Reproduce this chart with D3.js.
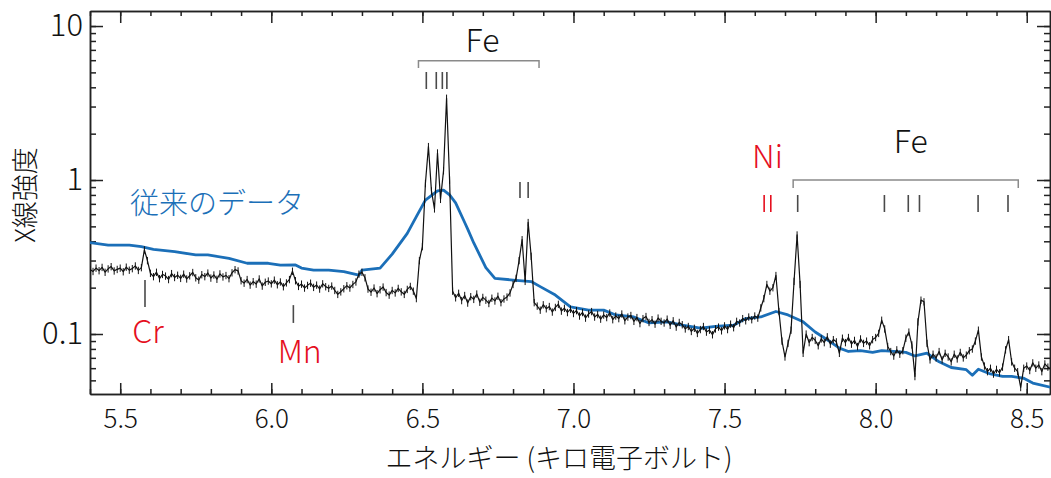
<!DOCTYPE html>
<html>
<head>
<meta charset="utf-8">
<script src="https://cdn.jsdelivr.net/npm/d3@7"></script>
<style>
	body { margin: 0; background: #fff; }
	svg { display: block; font-family: "Noto Sans CJK JP", "Noto Sans", sans-serif; font-weight: 300; }
	.axis path, .axis line { stroke: #222; stroke-width: 1.5; }
	.axis text { fill: #111; font-family: "Noto Sans CJK JP", "Noto Sans", sans-serif; font-weight: 300; }
</style>
</head>
<body>
<svg id="chart"></svg>
<script>
(function(){
	///////////////////////////////////////////////////////////////////
	//// Data /////////////////////////////////////////////////////////
	///////////////////////////////////////////////////////////////////
	// Black spectrum: bins of 0.01 keV starting at 5.40
	const specStart = 5.40;
	const specStep = 0.01;
	const specValues = [
		0.262, 0.255, 0.268, 0.258, 0.271, 0.252, 0.265, 0.274, 0.257, 0.263,
		0.268, 0.254, 0.272, 0.260, 0.266, 0.277, 0.259, 0.270, 0.352, 0.300,
		0.248, 0.236, 0.252, 0.229, 0.244, 0.238, 0.226, 0.247, 0.233, 0.241,
		0.230, 0.245, 0.228, 0.239, 0.251, 0.232, 0.224, 0.243, 0.236, 0.249,
		0.231, 0.242, 0.227, 0.246, 0.235, 0.240, 0.229, 0.250, 0.262, 0.257,
		0.222, 0.214, 0.226, 0.208, 0.219, 0.211, 0.228, 0.205, 0.217, 0.221,
		0.212, 0.224, 0.209, 0.218, 0.203, 0.215, 0.226, 0.256, 0.222, 0.204,
		0.211, 0.199, 0.207, 0.214, 0.201, 0.208, 0.196, 0.212, 0.203, 0.198,
		0.205, 0.192, 0.181, 0.188, 0.197, 0.206, 0.199, 0.210, 0.218, 0.245,
		0.252, 0.232, 0.196, 0.187, 0.199, 0.183, 0.194, 0.202, 0.186, 0.179,
		0.192, 0.185, 0.198, 0.188, 0.181, 0.195, 0.204, 0.190, 0.170, 0.300,
		0.370, 0.950, 1.650, 0.850, 0.650, 1.500, 0.750, 1.150, 3.400, 1.000,
		0.190, 0.172, 0.184, 0.165, 0.178, 0.159, 0.175, 0.168, 0.182, 0.161,
		0.173, 0.166, 0.158, 0.171, 0.164, 0.176, 0.160, 0.169, 0.174, 0.185,
		0.210, 0.230, 0.300, 0.410, 0.220, 0.530, 0.320, 0.160, 0.152, 0.143,
		0.155, 0.146, 0.151, 0.139, 0.149, 0.156, 0.141, 0.147, 0.138, 0.145,
		0.136, 0.142, 0.131, 0.138, 0.127, 0.135, 0.140, 0.129, 0.134, 0.125,
		0.133, 0.128, 0.137, 0.124, 0.131, 0.126, 0.135, 0.122, 0.129, 0.132,
		0.121, 0.128, 0.117, 0.126, 0.130, 0.119, 0.124, 0.116, 0.127, 0.121,
		0.118, 0.125, 0.114, 0.122, 0.111, 0.119, 0.115, 0.108, 0.112, 0.104,
		0.109, 0.101, 0.107, 0.112, 0.103, 0.106, 0.099, 0.108, 0.111, 0.105,
		0.113, 0.107, 0.116, 0.110, 0.121, 0.118, 0.126, 0.122, 0.129, 0.124,
		0.131, 0.127, 0.148, 0.170, 0.210, 0.190, 0.200, 0.240, 0.140, 0.090,
		0.071, 0.087, 0.106, 0.220, 0.440, 0.210, 0.075, 0.100, 0.088, 0.095,
		0.091, 0.084, 0.093, 0.088, 0.096, 0.086, 0.092, 0.089, 0.075, 0.094,
		0.088, 0.095, 0.086, 0.091, 0.083, 0.093, 0.087, 0.090, 0.084, 0.092,
		0.095, 0.101, 0.123, 0.108, 0.083, 0.077, 0.072, 0.079, 0.074, 0.078,
		0.094, 0.103, 0.085, 0.053, 0.120, 0.166, 0.162, 0.087, 0.068, 0.074,
		0.070, 0.077, 0.068, 0.075, 0.071, 0.066, 0.074, 0.069, 0.076, 0.070,
		0.073, 0.078, 0.080, 0.090, 0.106, 0.071, 0.062, 0.057, 0.060, 0.055,
		0.059, 0.056, 0.061, 0.079, 0.092, 0.066, 0.060, 0.057, 0.045, 0.060,
		0.062, 0.058, 0.065, 0.060, 0.063, 0.057, 0.064, 0.061, 0.059
	];
	const specErr = 0.055; // relative error bar half-length

	// Blue line (previous data)
	const oldEnergy = [5.40, 5.46, 5.53, 5.57, 5.61, 5.68, 5.75, 5.79, 5.86, 5.92,
		5.99, 6.03, 6.08, 6.10, 6.14, 6.19, 6.24, 6.29, 6.30, 6.36,
		6.40, 6.45, 6.48, 6.51, 6.55, 6.57, 6.59, 6.61, 6.64, 6.65,
		6.67, 6.71, 6.74, 6.80, 6.86, 6.89, 6.94, 6.99, 7.05, 7.10,
		7.14, 7.20, 7.25, 7.31, 7.36, 7.42, 7.47, 7.53, 7.57, 7.62,
		7.67, 7.71, 7.76, 7.80, 7.85, 7.88, 7.91, 7.95, 7.99, 8.02,
		8.06, 8.10, 8.13, 8.17, 8.21, 8.25, 8.30, 8.32, 8.34, 8.38,
		8.42, 8.45, 8.49, 8.52, 8.58];
	const oldValues = [0.392, 0.378, 0.378, 0.369, 0.355, 0.343, 0.326, 0.326, 0.310, 0.288,
		0.288, 0.280, 0.281, 0.268, 0.260, 0.260, 0.254, 0.241, 0.260, 0.268,
		0.330, 0.450, 0.578, 0.740, 0.850, 0.860, 0.800, 0.710, 0.530, 0.480,
		0.390, 0.270, 0.230, 0.224, 0.219, 0.203, 0.179, 0.150, 0.143, 0.143,
		0.133, 0.129, 0.118, 0.120, 0.114, 0.109, 0.112, 0.114, 0.126, 0.129,
		0.140, 0.133, 0.120, 0.103, 0.089, 0.081, 0.077, 0.078, 0.076, 0.078,
		0.077, 0.076, 0.072, 0.075, 0.066, 0.0606, 0.0586, 0.054, 0.059, 0.055,
		0.053, 0.053, 0.0516, 0.048, 0.045];

	// Axes
	const xTicks = [5.5, 6.0, 6.5, 7.0, 7.5, 8.0, 8.5];
	const yTicks = [0.1, 1, 10];

	// Line markers (energies in keV)
	const feGroup1 = [6.513, 6.546, 6.566, 6.581];
	const feGroup2 = [6.823, 6.850];
	const niLines = [7.631, 7.653];
	const feGroup3 = [7.742, 8.029, 8.108, 8.145, 8.339, 8.438];
	const crLine = [5.582];
	const mnLine = [6.073];

	///////////////////////////////////////////////////////////////////
	//// Inital Set Up ////////////////////////////////////////////////
	///////////////////////////////////////////////////////////////////
	const width = 1051;
	const height = 478;
	const plot = {left: 90, right: 1050, top: 11, bottom: 394};

	const blue = "#1b6fb8";
	const red = "#e50f1e";
	const mark = "#4a4a4a";

	const x = d3.scaleLinear()
			.domain([5.4, 8.577])
			.range([plot.left, plot.right]);

	const y = d3.scaleLog()
			.domain([0.04077, 12.52])
			.range([plot.bottom, plot.top]);

	const svg = d3.select("#chart")
			.attr("width", width)
			.attr("height", height);

	svg.append("clipPath")
			.attr("id", "clip")
		.append("rect")
			.attr("x", plot.left)
			.attr("y", plot.top)
			.attr("width", plot.right - plot.left)
			.attr("height", plot.bottom - plot.top);

	///////////////////////////////////////////////////////////////////
	//// Axes /////////////////////////////////////////////////////////
	///////////////////////////////////////////////////////////////////
	const xMinor = x.ticks(32);
	const yMinor = y.ticks();

	function addAxis(axis, tx, ty) {
		return svg.append("g")
				.attr("class", "axis")
				.attr("transform", `translate(${tx}, ${ty})`)
				.call(axis)
				.attr("font-family", null)
				.attr("font-size", null);
	}

	// bottom
	addAxis(d3.axisBottom(x).tickValues(xMinor).tickSize(-5).tickSizeOuter(0).tickFormat(""), 0, plot.bottom);
	const xAxisG = addAxis(d3.axisBottom(x).tickValues(xTicks).tickSize(-11).tickSizeOuter(0)
			.tickPadding(16).tickFormat(d3.format(".1f")), 0, plot.bottom);
	xAxisG.selectAll("text").style("font-size", "26px");

	// top
	addAxis(d3.axisTop(x).tickValues(xMinor).tickSize(-5).tickSizeOuter(0).tickFormat(""), 0, plot.top);
	addAxis(d3.axisTop(x).tickValues(xTicks).tickSize(-12).tickSizeOuter(0).tickFormat(""), 0, plot.top);

	// left
	addAxis(d3.axisLeft(y).tickValues(yMinor).tickSize(-6).tickSizeOuter(0).tickFormat(""), plot.left, 0);
	const yAxisG = addAxis(d3.axisLeft(y).tickValues(yTicks).tickSize(-13).tickSizeOuter(0)
			.tickPadding(7).tickFormat(d => String(d)), plot.left, 0);
	yAxisG.selectAll("text").style("font-size", "31px");

	// right
	addAxis(d3.axisRight(y).tickValues(yMinor).tickSize(-6).tickSizeOuter(0).tickFormat(""), plot.right, 0);
	addAxis(d3.axisRight(y).tickValues(yTicks).tickSize(-13).tickSizeOuter(0).tickFormat(""), plot.right, 0);

	// axis titles
	svg.append("text")
			.attr("x", 559)
			.attr("y", 468)
			.attr("text-anchor", "middle")
			.style("font-size", "27px")
			.style("fill", "#111")
			.text("エネルギー (キロ電子ボルト)");

	svg.append("text")
			.attr("transform", "translate(35, 195) rotate(-90)")
			.attr("text-anchor", "middle")
			.style("font-size", "27px")
			.style("fill", "#111")
			.text("X線強度");

	///////////////////////////////////////////////////////////////////
	//// Lines ////////////////////////////////////////////////////////
	///////////////////////////////////////////////////////////////////
	const spec = specValues.map((v, i) => ({e: specStart + i * specStep, v: v}));
	const old = oldEnergy.map((e, i) => ({e: e, v: oldValues[i]}));

	const line = d3.line()
			.x(d => x(d.e))
			.y(d => y(d.v));

	const lines = svg.append("g")
			.attr("clip-path", "url(#clip)");

	lines.append("path")
			.datum(old)
			.attr("d", line)
			.style("fill", "none")
			.style("stroke", blue)
			.style("stroke-width", 2.8)
			.style("stroke-linejoin", "round");

	lines.selectAll(".err")
		.data(spec)
		.enter().append("line")
			.attr("class", "err")
			.attr("x1", d => x(d.e))
			.attr("x2", d => x(d.e))
			.attr("y1", d => y(d.v * (1 - specErr)))
			.attr("y2", d => y(d.v * (1 + specErr)))
			.style("stroke", "#111")
			.style("stroke-width", 1);

	lines.append("path")
			.datum(spec)
			.attr("d", line)
			.style("fill", "none")
			.style("stroke", "#111")
			.style("stroke-width", 1.2)
			.style("stroke-linejoin", "round");

	///////////////////////////////////////////////////////////////////
	//// Annotations //////////////////////////////////////////////////
	///////////////////////////////////////////////////////////////////
	const notes = svg.append("g");

	function ticks(energies, v0, v1, color) {
		notes.selectAll(null)
			.data(energies)
			.enter().append("line")
				.attr("x1", d => x(d))
				.attr("x2", d => x(d))
				.attr("y1", y(v0))
				.attr("y2", y(v1))
				.style("stroke", color)
				.style("stroke-width", 1.6);
	}

	function bracket(e0, e1, v, vEnd) {
		notes.append("path")
				.attr("d", `M${x(e0)},${y(vEnd)}V${y(v)}H${x(e1)}V${y(vEnd)}`)
				.style("fill", "none")
				.style("stroke", "#8a8a8a")
				.style("stroke-width", 1.5);
	}

	function label(text, e, v, color, size, anchor) {
		notes.append("text")
				.attr("x", x(e))
				.attr("y", y(v))
				.attr("text-anchor", anchor || "middle")
				.style("font-size", size + "px")
				.style("fill", color)
				.text(text);
	}

	ticks(feGroup1, 5.03, 3.90, mark);
	bracket(6.487, 6.886, 5.95, 5.34);
	label("Fe", 6.699, 6.78, "#111", 32);

	ticks(feGroup2, 0.97, 0.764, mark);

	ticks(niLines, 0.799, 0.62, red);
	label("Ni", 7.642, 1.20, red, 32);

	ticks(feGroup3, 0.799, 0.62, mark);
	bracket(7.727, 8.472, 1.0, 0.887);
	label("Fe", 8.116, 1.50, "#111", 32);

	ticks(crLine, 0.224, 0.15, mark);
	label("Cr", 5.592, 0.0875, red, 32);

	ticks(mnLine, 0.154, 0.118, mark);
	label("Mn", 6.094, 0.0649, red, 32);

	label("従来のデータ", 5.532, 0.60, blue, 29, "start");
}());
</script>
</body>
</html>
